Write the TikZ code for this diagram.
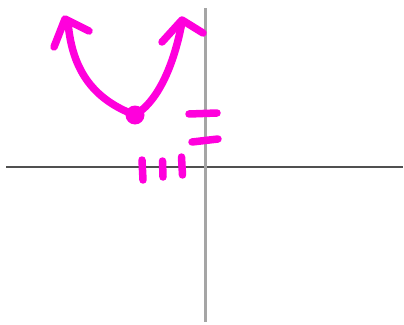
\documentclass[tikz,border=0pt]{standalone}
\definecolor{pen}{RGB}{255,0,220}
\definecolor{axisdark}{RGB}{80,80,80}
\definecolor{axislight}{RGB}{165,165,165}
\begin{document}
\begin{tikzpicture}[x=1pt,y=-1pt,
  ink/.style={draw=pen,line width=7.5pt,line cap=round,line join=round}]
\useasboundingbox[fill=white] (0,0) rectangle (404,324);
% axes
\draw[axisdark,line width=1.4pt] (6,167) -- (403,167);
\draw[axislight,line width=2.2pt] (205.5,8) -- (205.5,322);
% parabola
\coordinate (v) at (135,115);
\draw[ink] (v) .. controls (95,100) and (72,72) .. (68,22);
\draw[ink] (54,47) -- (65,19) -- (89,31);
\draw[ink] (v) .. controls (160,100) and (175,60) .. (182,22);
\draw[ink] (162,42) -- (182,20) -- (203,33);
\fill[pen] (v) circle (9.5);
% ticks on y axis
\draw[ink] (189,114) -- (217,113);
\draw[ink] (192,142) -- (218,139);
% ticks on x axis
\draw[ink] (142,160) -- (143,180);
\draw[ink] (162.5,161) -- (163,177);
\draw[ink] (181.5,157) -- (182.5,175);
\end{tikzpicture}
\end{document}
